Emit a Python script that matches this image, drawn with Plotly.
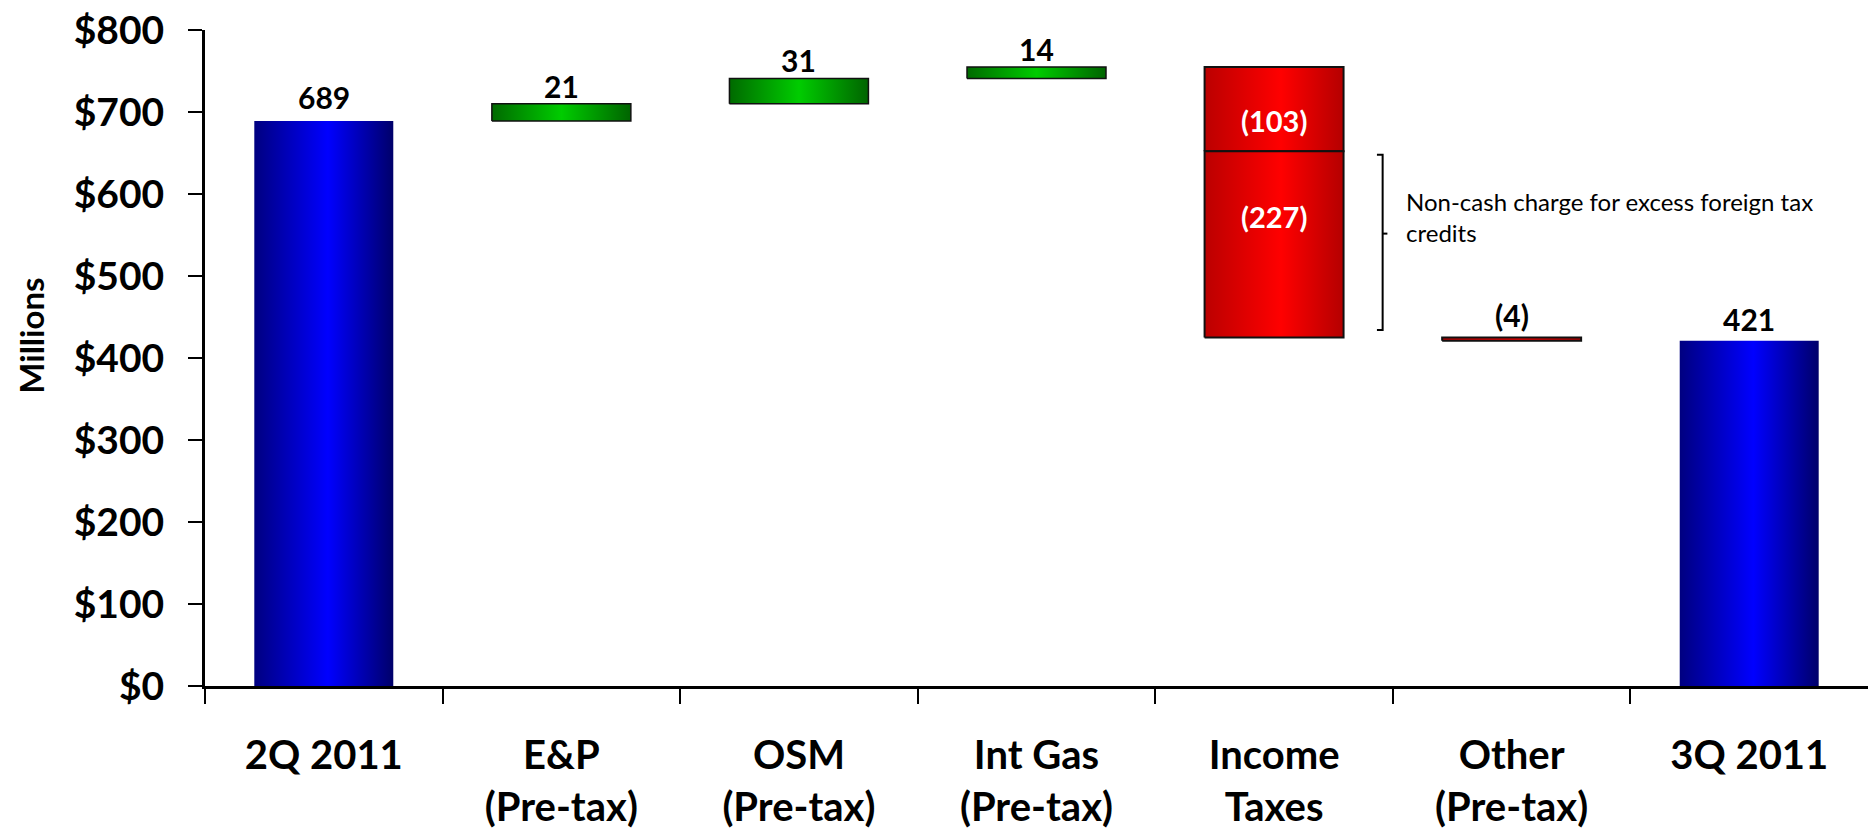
import plotly.graph_objects as go

# ---- data -------------------------------------------------------------
categories = ["2Q 2011", "E&P<br>(Pre-tax)", "OSM<br>(Pre-tax)", "Int Gas<br>(Pre-tax)",
              "Income<br>Taxes", "Other<br>(Pre-tax)", "3Q 2011"]
start_value = 689
end_value = 421

# waterfall steps between the two quarter totals (Income Taxes has two pieces)
step_category = [1, 2, 3, 4, 4, 5]
step_delta = [21, 31, 14, -103, -227, -4]
step_label = ["21", "31", "14", "(103)", "(227)", "(4)"]
step_label_inside = [False, False, False, True, True, False]

y_tick_values = [0, 100, 200, 300, 400, 500, 600, 700, 800]
y_tick_text = ["$0", "$100", "$200", "$300", "$400", "$500", "$600", "$700", "$800"]

note_text = "Non-cash charge for excess foreign tax<br>credits"

# ---- styles -----------------------------------------------------------
FONT = "Lato"
BAR_W = 0.585
BLUE = [[0, "#000080"], [0.53, "#0000ff"], [1, "#00006a"]]
GREEN = [[0, "#006a00"], [0.5, "#00cc00"], [1, "#006400"]]
RED = [[0, "#bb0000"], [0.55, "#ff0000"], [1, "#b40000"]]
inside_label_shift = [-54, -65]

fig = go.Figure()


def add_bar(cx, y0, y1, scale, line_color, line_width):
    x0, x1 = cx - BAR_W / 2, cx + BAR_W / 2
    fig.add_trace(go.Scatter(
        x=[x0, x1, x1, x0, x0], y=[y0, y0, y1, y1, y0],
        mode="lines", fill="toself",
        fillgradient=dict(type="horizontal", colorscale=scale),
        line=dict(color=line_color, width=line_width),
        hoverinfo="skip", showlegend=False,
    ))


def value_label(cx, y, text, shift):
    fig.add_annotation(x=cx, y=y, text=text, showarrow=False, yanchor="bottom",
                       yshift=shift, font=dict(family=FONT, size=30, color="black", weight="bold"))


# opening total
add_bar(0, 0, start_value, BLUE, "rgba(0,0,0,0)", 0)
value_label(0, start_value, str(start_value), 4)

# changes
level = start_value
inside_i = 0
for cat, delta, lab, inside in zip(step_category, step_delta, step_label, step_label_inside):
    lo, hi = sorted([level, level + delta])
    add_bar(cat, lo, hi, GREEN if delta > 0 else RED, "#111111", 2 if delta < 0 else 1.5)
    if inside:
        fig.add_annotation(x=cat, y=hi, text=lab, showarrow=False, yanchor="middle",
                           yshift=inside_label_shift[inside_i],
                           font=dict(family=FONT, size=29, color="white", weight="bold"))
        inside_i += 1
    else:
        value_label(cat, hi, lab, -2 if delta > 0 else 3)
    level += delta

# closing total
add_bar(6, 0, end_value, BLUE, "rgba(0,0,0,0)", 0)
value_label(6, end_value, str(end_value), 2)

# bracket beside the foreign-tax-credit piece of Income Taxes
seg_top = start_value + sum(step_delta[:4])
seg_bot = seg_top + step_delta[4]
b_top, b_bot = seg_top - 4, seg_bot + 9
b_mid = b_bot + 0.55 * (b_top - b_bot)
bx = 4.457
fig.add_shape(type="path",
              path=f"M {bx - 0.024} {b_top} L {bx} {b_top} L {bx} {b_bot} L {bx - 0.024} {b_bot}",
              line=dict(color="black", width=2))
fig.add_shape(type="line", x0=bx, x1=bx + 0.02, y0=b_mid, y1=b_mid,
              line=dict(color="black", width=2))
fig.add_annotation(x=bx + 0.09, y=(b_top + b_bot) / 2 + 31, text=note_text, showarrow=False,
                   xanchor="left", yanchor="middle", align="left",
                   font=dict(family=FONT, size=24, color="black"))

# y axis title
fig.add_annotation(text="Millions", xref="paper", yref="paper", x=0, y=0.534,
                   xshift=-196, textangle=-90, showarrow=False,
                   font=dict(family=FONT, size=33, color="black", weight="bold"))

fig.update_layout(
    width=1868, height=836,
    margin=dict(l=205, r=0, t=30, b=150),
    plot_bgcolor="white", paper_bgcolor="white",
    xaxis=dict(range=[-0.5, 6.5], tickvals=[-0.5, 0.5, 1.5, 2.5, 3.5, 4.5, 5.5],
               ticktext=[""] * 7, ticks="outside", ticklen=15, tickwidth=2, tickcolor="black",
               showline=True, linewidth=3, linecolor="black", showgrid=False, zeroline=False,
               automargin=False, fixedrange=True),
    xaxis2=dict(overlaying="x", anchor="y", side="bottom", range=[-0.5, 6.5],
                tickvals=list(range(len(categories))), ticktext=categories, ticks="",
                showline=False, showgrid=False, zeroline=False, ticklabelstandoff=42,
                tickfont=dict(family=FONT, size=40, color="black", weight="bold"),
                automargin=False, fixedrange=True),
    yaxis=dict(range=[0, 800], tickvals=y_tick_values, ticktext=y_tick_text,
               ticks="outside", ticklen=14, tickwidth=2, tickcolor="black",
               showline=True, linewidth=3, linecolor="black", showgrid=False, zeroline=False,
               ticklabelstandoff=16, tickfont=dict(family=FONT, size=39, color="black", weight="bold"),
               automargin=False, fixedrange=True),
)
# an empty trace on the label axis so it is drawn
fig.add_trace(go.Scatter(x=[None], y=[None], xaxis="x2", showlegend=False, hoverinfo="skip"))

fig.write_html("out.html")
